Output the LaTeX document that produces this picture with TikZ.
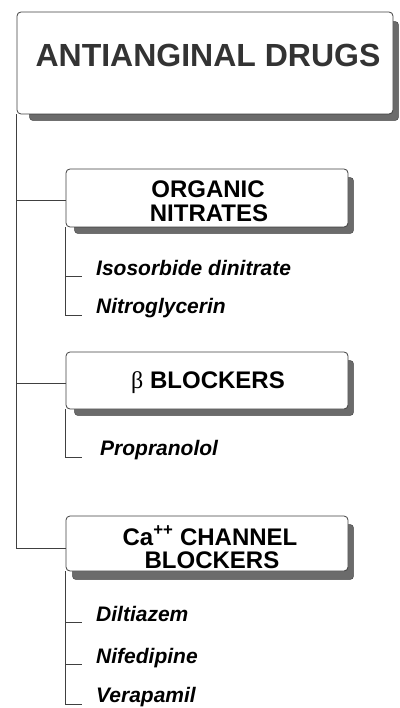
\documentclass[tikz,border=0pt]{standalone}
\usepackage{fontspec}
\setmainfont{Liberation Sans}
\newfontfamily\greekfont{Liberation Serif}
\usetikzlibrary{backgrounds}

\begin{document}
\begin{tikzpicture}[x=1pt,y=-1pt,
  box/.style={draw=black!75, line width=0.8pt, fill=white, rounded corners=4pt, inner sep=0pt},
  shadowfill/.style={fill=black!58, draw=black!75, line width=0.4pt, rounded corners=3pt},
  link/.style={draw=black!75, line width=1pt},
  title/.style={font=\fontsize{32}{32}\selectfont\bfseries, text=black!80, anchor=base, inner sep=0pt},
  head/.style={font=\fontsize{24}{24}\selectfont\bfseries, anchor=base, inner sep=0pt},
  item/.style={font=\fontsize{21}{21}\selectfont\bfseries\itshape, anchor=base west, inner sep=0pt},
]
\useasboundingbox (0,0) rectangle (399,708);

% category boxes
\node[box, minimum width=376pt, minimum height=102pt] (main) at (205,63) {};
\node[box, minimum width=282pt, minimum height=58pt] (org) at (207,198) {};
\node[box, minimum width=282pt, minimum height=57pt] (beta) at (207,380.5) {};
\node[box, minimum width=282pt, minimum height=55pt] (ca) at (207,543.5) {};

% raised shadows behind the boxes
\begin{pgfonlayer}{background}
  \fill[shadowfill] ([shift={(13pt,-10pt)}]main.north west) rectangle ([shift={(5pt,-6pt)}]main.south east);
  \fill[shadowfill] ([shift={(9pt,-9pt)}]org.north west) rectangle ([shift={(5pt,-6pt)}]org.south east);
  \fill[shadowfill] ([shift={(9pt,-9pt)}]beta.north west) rectangle ([shift={(5pt,-6pt)}]beta.south east);
  \fill[shadowfill] ([shift={(7pt,-9pt)}]ca.north west) rectangle ([shift={(5pt,-8pt)}]ca.south east);
\end{pgfonlayer}

% box titles
\node[title] (ttl) at (208,67) {ANTIANGINAL DRUGS};
\node[head] (h1a) at (208,198) {ORGANIC};
\node[head] (h1b) at (209,222) {NITRATES};
\node[head] (h2) at (208,388) {{\greekfont\mdseries β} BLOCKERS};
\node[head] (h3a) at (210,545) {Ca\textsuperscript{++} CHANNEL};
\node[head] (h3b) at (212,568) {BLOCKERS};

% drugs
\node[item] (iso) at (96,275) {Isosorbide dinitrate};
\node[item] (ntg) at (96,313) {Nitroglycerin};
\node[item] (pro) at (100,455) {Propranolol};
\node[item] (dil) at (96,621) {Diltiazem};
\node[item] (nif) at (96,663) {Nifedipine};
\node[item] (ver) at (96,702) {Verapamil};

% trunk from the main box to each class
\draw[link] (main.south west) |- ([yshift=-3pt]org.west);
\draw[link] (main.south west) |- ([yshift=-2.5pt]beta.west);
\draw[link] (main.south west) |- ([yshift=-4.5pt]ca.west);

% branches from each class to its drugs
\draw[link] (org.south west) |- ([shift={(-14pt,-2pt)}]ntg.base west);
\draw[link] ([shift={(-30pt,-1pt)}]iso.base west) -- ([shift={(-14pt,-1pt)}]iso.base west);

\draw[link] (beta.south west) |- ([shift={(-18pt,-2pt)}]pro.base west);

\draw[link] (ca.south west) |- ([shift={(-14pt,-2pt)}]ver.base west);
\draw[link] ([shift={(-30pt,-1pt)}]dil.base west) -- ([shift={(-14pt,-1pt)}]dil.base west);
\draw[link] ([shift={(-30pt,-1pt)}]nif.base west) -- ([shift={(-14pt,-1pt)}]nif.base west);
\end{tikzpicture}
\end{document}
